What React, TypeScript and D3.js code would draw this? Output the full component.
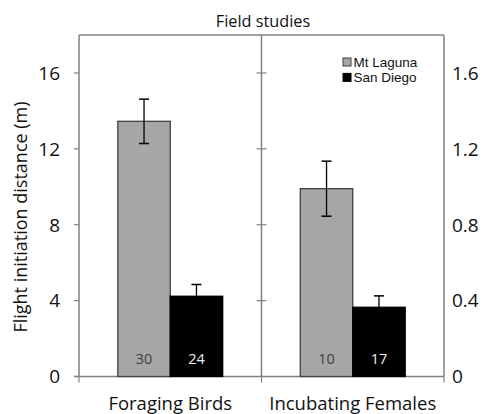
import React from "react";
import * as d3 from "d3";

const categories = ["Foraging Birds", "Incubating Females"];
const seriesNames = ["Mt Laguna", "San Diego"];
const meansForaging = [13.45, 4.23];
const errForaging = [1.17, 0.62];
const meansIncubating = [0.99, 0.365];
const errIncubating = [0.145, 0.06];
const nForaging = [30, 24];
const nIncubating = [10, 17];
const leftTicks = [0, 4, 8, 12, 16];
const rightTicks = [0, 0.4, 0.8, 1.2, 1.6];
const title = "Field studies";
const yTitle = "Flight initiation distance (m)";

const W = 490;
const H = 414;
const FONT = "'Open Sans', sans-serif";
const LEG_FONT = "'Liberation Sans', Arial, sans-serif";
const colors = ["#a6a6a6", "#000000"];
const numColors = ["#404040", "#f0f0f0"];

export default function App() {
  const left = 79, right = 444, top = 35, bottom = 376.5;
  const yL = d3.scaleLinear().domain([0, 18]).range([bottom, top]);
  const yR = d3.scaleLinear().domain([0, 1.8]).range([bottom, top]);
  const x0 = d3.scaleBand().domain(categories).range([left, right]).paddingInner(0).paddingOuter(0);
  const x1 = d3.scaleBand().domain(seriesNames).range([0, x0.bandwidth()]).paddingInner(0).paddingOuter(0.74);

  const groups = [
    { cat: categories[0], means: meansForaging, errs: errForaging, ns: nForaging, y: yL },
    { cat: categories[1], means: meansIncubating, errs: errIncubating, ns: nIncubating, y: yR },
  ];
  const divider = x0(categories[1])!;
  const frame = "#808080";
  const legX = 343, legY = 58, legStep = 15.4;

  return (
    <svg width={W} height={H} style={{ position: "absolute", left: 0, top: 0, background: "#fff" }} fontFamily={FONT}>
      <text x={263} y={27} textAnchor="middle" fontSize={16.3} fill="#111">{title}</text>
      {/* frame */}
      <line x1={left} x2={left} y1={top} y2={bottom} stroke={frame} strokeWidth={1.5} />
      <line x1={left} x2={right} y1={top} y2={top} stroke={frame} strokeWidth={1.5} />
      <line x1={divider} x2={divider} y1={top} y2={bottom} stroke={frame} strokeWidth={1.5} />
      <line x1={right} x2={right} y1={top} y2={bottom} stroke={frame} strokeWidth={1.5} />
      <line x1={left - 5} x2={right} y1={bottom} y2={bottom} stroke={frame} strokeWidth={1.5} />
      {[left, divider, right].map((xv, i) => (
        <line key={i} x1={xv} x2={xv} y1={bottom} y2={bottom + 6} stroke={frame} strokeWidth={1.2} />
      ))}
      {leftTicks.map((t) => (
        <g key={"l" + t}>
          <line x1={left - 5} x2={left} y1={yL(t)} y2={yL(t)} stroke={frame} strokeWidth={1.2} />
          <text x={60} y={yL(t)} dy="0.36em" textAnchor="end" fontSize={19} fill="#111">{d3.format("d")(t)}</text>
        </g>
      ))}
      {rightTicks.map((t) => (
        <g key={"r" + t}>
          {t > 0 && <line x1={divider - 5} x2={divider + 5} y1={yR(t)} y2={yR(t)} stroke={frame} strokeWidth={1.2} />}
          <text x={452} y={yR(t)} dy="0.36em" textAnchor="start" fontSize={19} fill="#111">{t === 0 ? "0" : d3.format(".1f")(t)}</text>
        </g>
      ))}
      {groups.map((g) => (
        <g key={g.cat} transform={`translate(${x0(g.cat)},0)`}>
          {seriesNames.map((s, i) => {
            const bx = x1(s)!;
            const bw = x1.bandwidth();
            const cx = bx + bw / 2;
            return (
              <g key={s}>
                <rect x={bx} y={g.y(g.means[i])} width={bw} height={g.y(0) - g.y(g.means[i])}
                  fill={colors[i]} stroke={i === 0 ? "#404040" : "#000"} strokeWidth={1.3} />
                <line x1={cx} x2={cx} y1={g.y(g.means[i] + g.errs[i])} y2={g.y(g.means[i] - g.errs[i])} stroke="#000" strokeWidth={1.3} />
                <line x1={cx - 5} x2={cx + 5} y1={g.y(g.means[i] + g.errs[i])} y2={g.y(g.means[i] + g.errs[i])} stroke="#000" strokeWidth={1.5} />
                <line x1={cx - 5} x2={cx + 5} y1={g.y(g.means[i] - g.errs[i])} y2={g.y(g.means[i] - g.errs[i])} stroke="#000" strokeWidth={1.5} />
                <text x={cx} y={363.5} textAnchor="middle" fontSize={14.5} fill={numColors[i]}>{g.ns[i]}</text>
              </g>
            );
          })}
          <text x={x0.bandwidth() / 2} y={410} textAnchor="middle" fontSize={18.5} fill="#111">{g.cat}</text>
        </g>
      ))}
      {/* legend */}
      {seriesNames.map((s, i) => (
        <g key={s}>
          <rect x={legX} y={legY + i * legStep} width={8} height={8} fill={colors[i]} stroke={i === 0 ? "#404040" : "#000"} strokeWidth={1} />
          <text x={legX + 10.5} y={legY + 8.5 + i * legStep} fontSize={13.5} fontFamily={LEG_FONT} fill="#111">{s}</text>
        </g>
      ))}
      <text transform={`translate(27,217) rotate(-90)`} textAnchor="middle" fontSize={18} fill="#111">{yTitle}</text>
    </svg>
  );
}
